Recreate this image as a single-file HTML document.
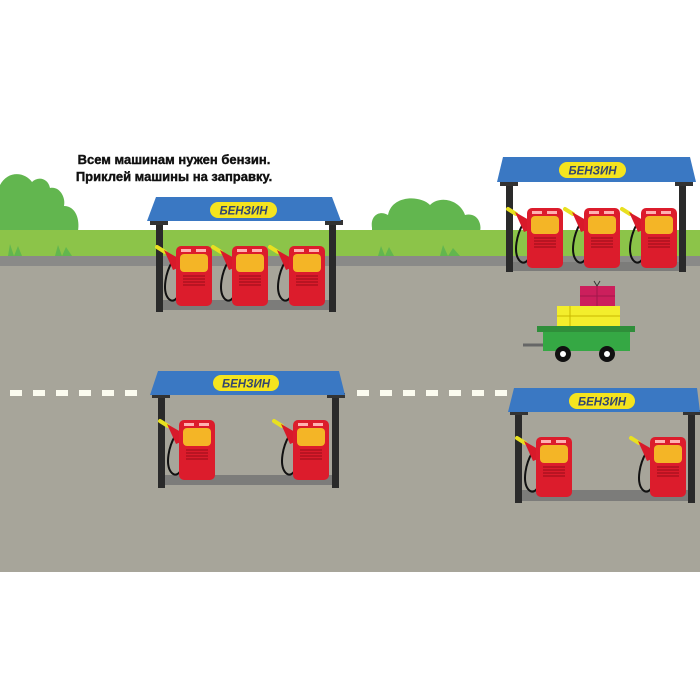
<!DOCTYPE html>
<html><head><meta charset="utf-8"><style>
html,body{margin:0;padding:0;background:#fff;width:700px;height:700px;overflow:hidden}
</style></head><body>
<svg width="700" height="700" viewBox="0 0 700 700" xmlns="http://www.w3.org/2000/svg">
<defs>
<g id="pump">
  <path d="M-4,16 C-10,26 -14,44 -8,52 C-4,57 0,54 2,50" fill="none" stroke="#111" stroke-width="2"/>
  <line x1="-19" y1="1" x2="-11" y2="6" stroke="#e8e020" stroke-width="4" stroke-linecap="round"/>
  <path d="M-12,4 L2,12 L2,22 L-3,24 Z" fill="#d81a2a"/>
  <rect x="0" y="0" width="36" height="60" rx="5" fill="#dc1c2c"/>
  <rect x="5" y="3" width="10" height="3" fill="#ffb0b0"/>
  <rect x="20" y="3" width="10" height="3" fill="#ffb0b0"/>
  <rect x="4" y="8" width="28" height="18" rx="4" fill="#f4b526"/>
  <g stroke="#a4101c" stroke-width="1.2">
    <line x1="7" y1="30" x2="29" y2="30"/><line x1="7" y1="33" x2="29" y2="33"/>
    <line x1="7" y1="36" x2="29" y2="36"/><line x1="7" y1="39" x2="29" y2="39"/>
  </g>
</g>
</defs>
<path d="M0,185 C8,170 25,172 32,182 C38,176 48,178 50,188 C60,186 66,198 64,206 C76,206 80,220 78,231 L0,231 Z" fill="#62b64f"/>
<path d="M372,228 C370,215 380,210 388,215 C392,195 420,195 430,205 C440,195 460,200 465,215 C478,212 482,225 480,231 L372,231 Z" fill="#62b64f"/>
<rect x="0" y="230" width="700" height="27" fill="#8cc449"/>
<g fill="#62b64f">
  <path d="M8,256 L10,244 L14,256 L18,246 L22,256 Z"/>
  <path d="M55,256 L58,245 L62,256 L66,247 L72,256 Z"/>
  <path d="M378,256 L381,246 L385,256 L389,247 L394,256 Z"/>
  <path d="M440,256 L443,245 L448,256 L453,248 L460,256 Z"/>
</g>
<rect x="0" y="256" width="700" height="10" fill="#8a8a88"/>
<rect x="0" y="266" width="700" height="306" fill="#a7a59a"/>
<g fill="#fbfbef">
  <rect x="10" y="390" width="12" height="6"/><rect x="33" y="390" width="12" height="6"/>
  <rect x="56" y="390" width="12" height="6"/><rect x="79" y="390" width="12" height="6"/>
  <rect x="102" y="390" width="12" height="6"/><rect x="125" y="390" width="12" height="6"/>
  <rect x="357" y="390" width="12" height="6"/><rect x="380" y="390" width="12" height="6"/>
  <rect x="403" y="390" width="12" height="6"/><rect x="426" y="390" width="12" height="6"/>
  <rect x="449" y="390" width="12" height="6"/><rect x="472" y="390" width="12" height="6"/>
  <rect x="495" y="390" width="12" height="6"/>
</g>
<g font-family="Liberation Sans, sans-serif" font-weight="bold" font-size="13" fill="#111" stroke="#111" stroke-width="0.4" text-anchor="middle">
  <text x="174" y="164">Всем машинам нужен бензин.</text>
  <text x="174" y="181">Приклей машины на заправку.</text>
</g>
<g font-family="Liberation Sans, sans-serif" font-weight="bold" font-style="italic" font-size="11.5" fill="#34466e" text-anchor="middle">
<!-- station 1 -->
<rect x="160" y="300" width="172" height="10" fill="#7c7c7a"/>
<rect x="156" y="222" width="7" height="90" fill="#2a2a2a"/>
<rect x="329" y="222" width="7" height="90" fill="#2a2a2a"/>
<rect x="150" y="220" width="18" height="5" fill="#333"/><rect x="325" y="220" width="18" height="5" fill="#333"/>
<path d="M156,197 L332,197 L341,221 L147,221 Z" fill="#3a78c3"/>
<rect x="210" y="202" width="67" height="16" rx="8" fill="#f5e41e"/>
<text x="243.5" y="214.5">БЕНЗИН</text>
<use href="#pump" x="176" y="246"/><use href="#pump" x="232" y="246"/><use href="#pump" x="289" y="246"/>
<!-- station 2 -->
<rect x="510" y="262" width="172" height="9" fill="#7c7c7a"/>
<rect x="506" y="183" width="7" height="89" fill="#2a2a2a"/>
<rect x="679" y="183" width="7" height="89" fill="#2a2a2a"/>
<rect x="500" y="181" width="18" height="5" fill="#333"/><rect x="675" y="181" width="18" height="5" fill="#333"/>
<path d="M503,157 L690,157 L696,182 L497,182 Z" fill="#3a78c3"/>
<rect x="559" y="162" width="67" height="16" rx="8" fill="#f5e41e"/>
<text x="592.5" y="174.5">БЕНЗИН</text>
<use href="#pump" x="527" y="208"/><use href="#pump" x="584" y="208"/><use href="#pump" x="641" y="208"/>
<!-- cart -->
<rect x="580" y="286" width="35" height="20" fill="#cc1f5c"/>
<line x1="597" y1="286" x2="597" y2="306" stroke="#a0174a"/><line x1="580" y1="296" x2="615" y2="296" stroke="#a0174a"/>
<path d="M597,286 l-3,-5 M597,286 l3,-5" stroke="#333"/>
<rect x="557" y="306" width="63" height="20" fill="#f3ee2c"/>
<line x1="570" y1="306" x2="570" y2="326" stroke="#c8b800"/><line x1="557" y1="316" x2="620" y2="316" stroke="#c8b800"/>
<line x1="523" y1="345" x2="545" y2="345" stroke="#666" stroke-width="3"/>
<rect x="537" y="326" width="98" height="6" fill="#2f8e3a"/>
<rect x="543" y="332" width="87" height="19" fill="#35a844"/>
<circle cx="563" cy="354" r="8" fill="#111"/><circle cx="563" cy="354" r="3" fill="#fff"/>
<circle cx="607" cy="354" r="8" fill="#111"/><circle cx="607" cy="354" r="3" fill="#fff"/>
<!-- station 3 -->
<rect x="162" y="475" width="172" height="10" fill="#7c7c7a"/>
<rect x="158" y="395" width="7" height="93" fill="#2a2a2a"/>
<rect x="332" y="395" width="7" height="93" fill="#2a2a2a"/>
<rect x="152" y="393" width="18" height="5" fill="#333"/><rect x="327" y="393" width="18" height="5" fill="#333"/>
<path d="M158,371 L339,371 L345,395 L150,395 Z" fill="#3a78c3"/>
<rect x="213" y="375" width="66" height="16" rx="8" fill="#f5e41e"/>
<text x="246" y="387.5">БЕНЗИН</text>
<use href="#pump" x="179" y="420"/><use href="#pump" x="293" y="420"/>
<!-- station 4 -->
<rect x="518" y="490" width="172" height="11" fill="#7c7c7a"/>
<rect x="515" y="412" width="7" height="91" fill="#2a2a2a"/>
<rect x="688" y="412" width="7" height="91" fill="#2a2a2a"/>
<rect x="510" y="410" width="18" height="5" fill="#333"/><rect x="683" y="410" width="18" height="5" fill="#333"/>
<path d="M514,388 L697,388 L700,412 L508,412 Z" fill="#3a78c3"/>
<rect x="569" y="393" width="66" height="16" rx="8" fill="#f5e41e"/>
<text x="602" y="405.5">БЕНЗИН</text>
<use href="#pump" x="536" y="437"/><use href="#pump" x="650" y="437"/>
</g>
</svg>
</body></html>
